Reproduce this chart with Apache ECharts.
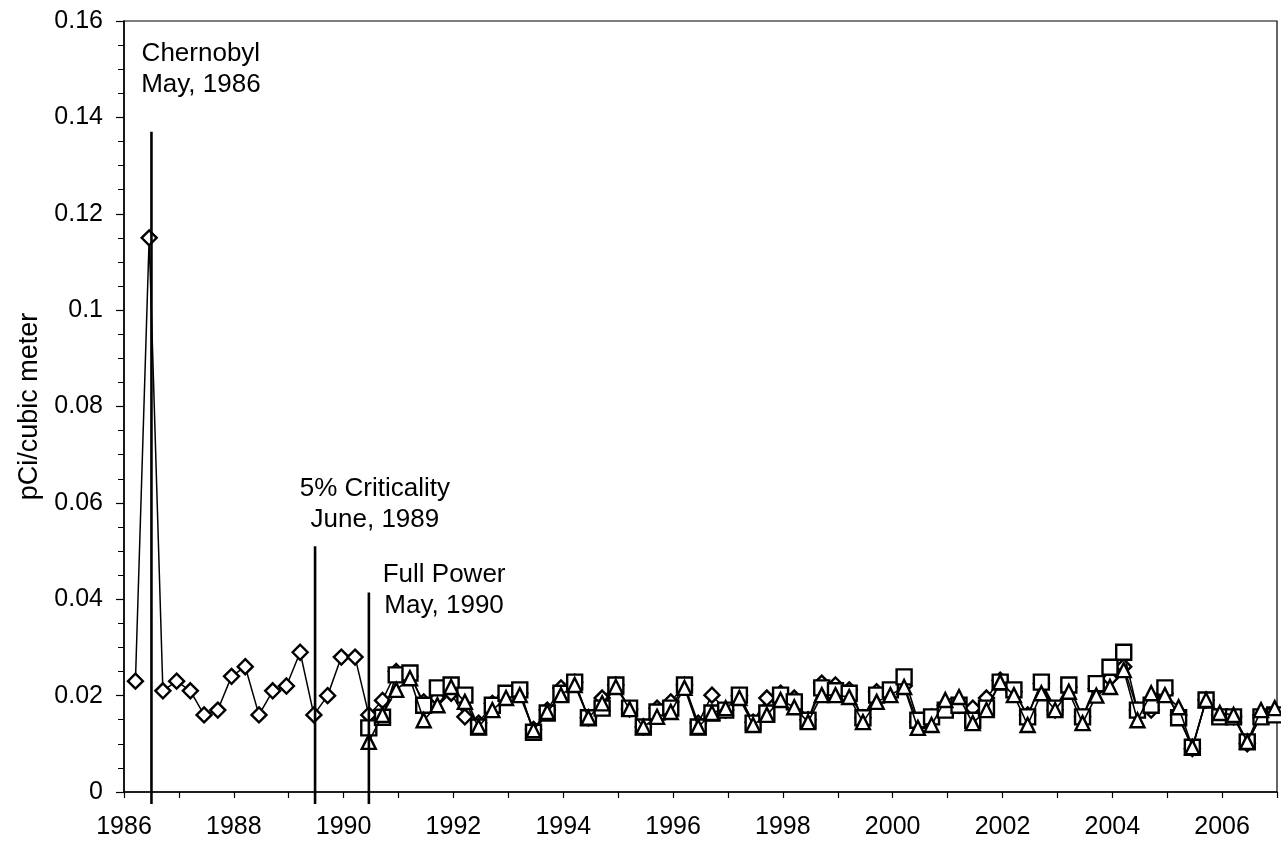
<!DOCTYPE html>
<html>
<head>
<meta charset="utf-8">
<script src="https://cdn.jsdelivr.net/npm/echarts@6/dist/echarts.min.js"></script>
<style>
  html, body { margin: 0; padding: 0; background: #fff; }
  #chart { width: 1281px; height: 843px; }
</style>
</head>
<body>
<div id="chart"></div>
<script>
// Quarterly sample dates (year-month)
const quarters = [
  '1986-03','1986-06','1986-09','1986-12',
  '1987-03','1987-06','1987-09','1987-12',
  '1988-03','1988-06','1988-09','1988-12',
  '1989-03','1989-06','1989-09','1989-12',
  '1990-03','1990-06','1990-09','1990-12',
  '1991-03','1991-06','1991-09','1991-12',
  '1992-03','1992-06','1992-09','1992-12',
  '1993-03','1993-06','1993-09','1993-12',
  '1994-03','1994-06','1994-09','1994-12',
  '1995-03','1995-06','1995-09','1995-12',
  '1996-03','1996-06','1996-09','1996-12',
  '1997-03','1997-06','1997-09','1997-12',
  '1998-03','1998-06','1998-09','1998-12',
  '1999-03','1999-06','1999-09','1999-12',
  '2000-03','2000-06','2000-09','2000-12',
  '2001-03','2001-06','2001-09','2001-12',
  '2002-03','2002-06','2002-09','2002-12',
  '2003-03','2003-06','2003-09','2003-12',
  '2004-03','2004-06','2004-09','2004-12',
  '2005-03','2005-06','2005-09','2005-12',
  '2006-03','2006-06','2006-09','2006-12'
];

// Diamond series (from 1986)
const diamondValues = [
  0.023, 0.115, 0.021, 0.023,
  0.021, 0.016, 0.017, 0.024,
  0.026, 0.016, 0.021, 0.022,
  0.029, 0.016, 0.020, 0.028,
  0.028, 0.016, 0.019, 0.025,
  0.024, 0.0187, 0.0195, 0.0205,
  0.0156, 0.0143, 0.0184, 0.020,
  0.0205, 0.013, 0.017, 0.0216,
  0.0228, 0.0154, 0.0195, 0.0222,
  0.0172, 0.0135, 0.0174, 0.0187,
  0.0222, 0.0143, 0.0201, 0.017,
  0.020, 0.0145, 0.0195, 0.0205,
  0.0195, 0.015, 0.0226, 0.0222,
  0.0212, 0.0154, 0.0208, 0.021,
  0.022, 0.0145, 0.0156, 0.018,
  0.018, 0.0174, 0.0195, 0.0232,
  0.0208, 0.016, 0.0225, 0.017,
  0.0218, 0.0156, 0.0215, 0.0236,
  0.026, 0.017, 0.017, 0.0205,
  0.016, 0.009, 0.0191, 0.016,
  0.0156, 0.010, 0.016, 0.0165
];

// Square series (starts June 1990)
const squareStart = '1990-06';
const squareValues = [
  0.0133, 0.0155, 0.0243,
  0.0247, 0.018, 0.0216, 0.0222,
  0.0201, 0.0135, 0.018, 0.0205,
  0.0212, 0.0124, 0.0164, 0.0205,
  0.0228, 0.0154, 0.0174, 0.0222,
  0.0174, 0.0135, 0.0166, 0.0174,
  0.0222, 0.0135, 0.0164, 0.017,
  0.0201, 0.0143, 0.0164, 0.0201,
  0.0187, 0.0149, 0.0216, 0.021,
  0.0205, 0.0154, 0.0201, 0.0212,
  0.0239, 0.0149, 0.0156, 0.017,
  0.018, 0.0149, 0.0174, 0.0228,
  0.0212, 0.0156, 0.0228, 0.0174,
  0.0222, 0.0156, 0.0225, 0.0259,
  0.029, 0.017, 0.018, 0.0216,
  0.0154, 0.0093, 0.0191, 0.0156,
  0.0156, 0.0104, 0.0156, 0.016
];

// Triangle series (starts June 1990)
const triangleStart = '1990-06';
const triangleValues = [
  0.0104, 0.016, 0.0212,
  0.0236, 0.0149, 0.018, 0.0218,
  0.0187, 0.0135, 0.017, 0.0195,
  0.0201, 0.0128, 0.0166, 0.0201,
  0.0222, 0.0154, 0.0184, 0.0218,
  0.0172, 0.0135, 0.0156, 0.0166,
  0.0216, 0.0135, 0.0164, 0.0174,
  0.0195, 0.0139, 0.016, 0.0191,
  0.0176, 0.0145, 0.0201, 0.0201,
  0.0197, 0.0145, 0.0187, 0.0201,
  0.0218, 0.0133, 0.0139, 0.0191,
  0.0197, 0.0143, 0.017, 0.0228,
  0.0201, 0.0139, 0.0205, 0.017,
  0.0208, 0.0143, 0.0200, 0.0218,
  0.0253, 0.0149, 0.0205, 0.0201,
  0.0176, 0.0093, 0.0191, 0.0164,
  0.016, 0.0104, 0.017, 0.0174
];

// Event marker lines (decimal year, top value)
const eventX = [1986.50, 1989.48, 1990.46];
const eventTop = [0.137, 0.051, 0.0414];
const eventBottom = -0.0025;

// Annotation texts and their anchor (decimal year, value)
const annotationText = ['Chernobyl\nMay, 1986', '5% Criticality\nJune, 1989', 'Full Power\nMay, 1990'];
const annotationX = [1987.40, 1990.57, 1991.83];
const annotationY = [0.1500, 0.0598, 0.0419];

// Axis settings
const xMin = 1986, xMax = 2007, xStep = 1;
const yMin = 0, yMax = 0.16, yStep = 0.02;
const yAxisTitle = 'pCi/cubic meter';

function toYear(q) {
  const [y, m] = q.split('-').map(Number);
  return y + (m - 0.5) / 12;
}
function pairs(startLabel, values) {
  const s = quarters.indexOf(startLabel);
  return values.map((v, i) => [toYear(quarters[s + i]), v]);
}

const FONT = "'Liberation Sans', Arial, sans-serif";
const markerStyle = { color: '#fff', borderColor: '#000', borderWidth: 2.4 };

const series = [
  {
    type: 'line', name: 'diamond',
    data: pairs('1986-03', diamondValues),
    symbol: 'diamond', symbolSize: 15,
    itemStyle: markerStyle,
    lineStyle: { color: '#000', width: 1.5 },
    z: 3
  },
  {
    type: 'line', name: 'square',
    data: pairs(squareStart, squareValues),
    symbol: 'rect', symbolSize: 15,
    itemStyle: markerStyle,
    lineStyle: { color: '#000', width: 1.6 },
    z: 4
  },
  {
    type: 'line', name: 'triangle',
    data: pairs(triangleStart, triangleValues),
    symbol: 'triangle', symbolSize: 14,
    itemStyle: markerStyle,
    lineStyle: { color: '#000', width: 1.6 },
    z: 5
  }
];

eventX.forEach((x, i) => {
  series.push({
    type: 'line',
    data: [[x, eventBottom], [x, eventTop[i]]],
    symbol: 'none', clip: false,
    lineStyle: { color: '#000', width: 2.6 },
    z: 6, silent: true
  });
});

series.push({
  type: 'scatter',
  data: annotationText.map((t, i) => ({ name: t, value: [annotationX[i], annotationY[i]] })),
  symbolSize: 0,
  itemStyle: { opacity: 1 },
  label: {
    show: true, position: 'inside', formatter: '{b}',
    fontFamily: FONT, fontSize: 26, lineHeight: 31, color: '#000', align: 'center'
  },
  silent: true, z: 7
});

const chart = echarts.init(document.getElementById('chart'), null, { renderer: 'canvas' });
chart.setOption({
  animation: false,
  backgroundColor: '#fff',
  grid: {
    left: 124, right: 4, top: 21, bottom: 51,
    show: true, borderColor: '#000', borderWidth: 1.2, backgroundColor: 'transparent'
  },
  xAxis: {
    type: 'value', min: xMin, max: xMax, interval: xStep,
    axisLine: { show: true, onZero: false, lineStyle: { color: '#000', width: 1.5 } },
    axisTick: { show: true, inside: false, length: 6, lineStyle: { color: '#000', width: 1.2 } },
    splitLine: { show: false },
    axisLabel: {
      margin: 23, fontFamily: FONT, fontSize: 25, color: '#000',
      formatter: v => (Math.round(v) % 2 === 0 ? String(Math.round(v)) : '')
    }
  },
  yAxis: {
    type: 'value', min: yMin, max: yMax, interval: yStep,
    name: yAxisTitle, nameLocation: 'middle', nameRotate: 90, nameGap: 72,
    nameTextStyle: { fontFamily: FONT, fontSize: 27, color: '#000' },
    axisLine: { show: true, lineStyle: { color: '#000', width: 1.5 } },
    axisTick: { show: true, inside: false, length: 8, lineStyle: { color: '#000', width: 1.2 } },
    minorTick: { show: true, splitNumber: 4, length: 6, lineStyle: { color: '#000', width: 1 } },
    splitLine: { show: false },
    axisLabel: { margin: 21, fontFamily: FONT, fontSize: 25, color: '#000' }
  },
  series: series
});
</script>
</body>
</html>
